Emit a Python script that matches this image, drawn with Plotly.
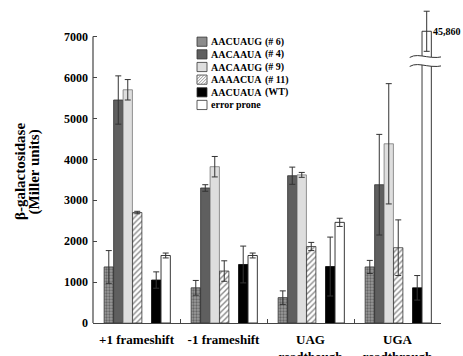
import plotly.graph_objects as go

# ---------------- data ----------------
categories = ["+1 frameshift", "-1 frameshift", "UAG<br>readthough", "UGA<br>readthrough"]

series_names = ["AACUAUG", "AACAAUA", "AACAAUG", "AAAACUA", "AACUAUA", "error prone"]
series_tags = ["(# 6)", "(# 4)", "(# 9)", "(# 11)", "(WT)", ""]

v6 = [1370, 860, 620, 1370]
v4 = [5450, 3300, 3600, 3380]
v9 = [5700, 3820, 3620, 4380]
v11 = [2700, 1270, 1870, 1840]
vWT = [1050, 1430, 1380, 860]
vEP = [1650, 1650, 2460, 45860]

e6 = [400, 180, 165, 160]
e4 = [590, 80, 210, 1230]
e9 = [250, 250, 60, 1470]
e11 = [30, 250, 100, 680]
eWT = [200, 450, 720, 300]
eEP = [60, 60, 100, 490]

y_tick_values = [0, 1000, 2000, 3000, 4000, 5000, 6000, 7000]

# ---------------- styling / layout ----------------
FONT = "Liberation Serif"
AXIS_MAX = 7000        # last value on the unbroken axis
BREAK_DRAW = 7130      # height at which bars beyond the axis break are drawn
Y_RANGE = [0, 7650]
AX_COLOR = "#444444"

W, H = 463, 356
ML, MR, MT, MB = 93, 22, 10, 33
PW, PH = W - ML - MR, H - MT - MB

BAR_W = 0.107
SLOT0 = -0.372
SLOT_STEP = 0.109
slots = [0, 1, 2, 3, 5, 6]

values = [v6, v4, v9, v11, vWT, vEP]
errors = [e6, e4, e9, e11, eWT, eEP]

styles = [
    dict(color="#929292", line=dict(color="#333333", width=0.8),
         pattern=dict(shape=".", fgcolor="#666666", bgcolor="#9a9a9a", size=3, solidity=0.45)),
    dict(color="#5f5f5f", line=dict(color="#333333", width=0.8)),
    dict(color="#dedede", line=dict(color="#777777", width=0.8)),
    dict(color="#ffffff", line=dict(color="#333333", width=0.8),
         pattern=dict(shape="/", fgcolor="#8a8a8a", bgcolor="#ffffff", size=4, solidity=0.35)),
    dict(color="#000000", line=dict(color="#000000", width=0.8)),
    dict(color="#ffffff", line=dict(color="#222222", width=0.9)),
]
swatch_fill = ["#8c8c8c", "#5f5f5f", "#dedede", "#ffffff", "#000000", "#ffffff"]

fig = go.Figure()
for i, (name, vals, errs) in enumerate(zip(series_names, values, errors)):
    drawn = [v if v <= AXIS_MAX else BREAK_DRAW for v in vals]
    fig.add_trace(go.Bar(
        x=categories, y=drawn, name=name,
        width=BAR_W, offset=SLOT0 + slots[i] * SLOT_STEP,
        marker=styles[i],
        error_y=dict(type="data", array=errs, symmetric=True,
                     color="#333333", thickness=1, width=3),
        showlegend=False,
    ))

shapes = []
annotations = []

# y axis line (only up to the axis break value)
shapes.append(dict(type="line", xref="paper", yref="y", x0=0, x1=0, y0=0, y1=AXIS_MAX,
                   line=dict(color=AX_COLOR, width=1.2)))

# axis-break marks across the broken bar
ep = len(series_names) - 1
for gi, v in enumerate(vEP):
    if v > AXIS_MAX:
        xc = gi + SLOT0 + slots[ep] * SLOT_STEP + BAR_W / 2
        xr = gi + SLOT0 + slots[ep] * SLOT_STEP + BAR_W
        yb = 6405
        band = "M -17,3.5 C -7,9.5 5,-1.5 23,6.5 L 23,-2.5 C 5,-10.5 -7,0.5 -17,-5.5 Z"
        shapes.append(dict(type="path", xref="x", yref="y", xsizemode="pixel", ysizemode="pixel",
                           xanchor=xc, yanchor=yb, path=band, fillcolor="white",
                           line=dict(width=0)))
        for b in (4.5, -4.5):
            p = f"M -17,{b-1} C -7,{b+5} 5,{b-6} 23,{b+2}"
            shapes.append(dict(type="path", xref="x", yref="y", xsizemode="pixel", ysizemode="pixel",
                               xanchor=xc, yanchor=yb, path=p,
                               line=dict(color="#333333", width=1)))
        annotations.append(dict(x=xr, y=BREAK_DRAW, xref="x", yref="y", text=f"{v:,}",
                                showarrow=False, xanchor="left", yanchor="middle", xshift=0,
                                font=dict(family=FONT, size=10, color="black", weight="bold")))

# legend (drawn manually to keep the compact row spacing)
row0, row_step = 41.7, 12.65
sw_x0, sw_x1 = 197 - ML, 207 - ML
for i in range(len(series_names)):
    py = row0 + i * row_step
    yc = -(py - MT)
    shapes.append(dict(type="rect", xref="paper", yref="paper", xsizemode="pixel", ysizemode="pixel",
                       xanchor=0, yanchor=1, x0=sw_x0, x1=sw_x1, y0=yc - 4.6, y1=yc + 4.6,
                       fillcolor=swatch_fill[i], line=dict(color="#333333", width=0.8)))
    if i == 3:
        segs = []
        bx0, by0 = sw_x0, yc - 4.6
        for k in range(-8, 10, 3):
            xa, ya = bx0 + max(k, 0), by0 + max(-k, 0)
            xb_ = bx0 + min(10, 9.2 + k)
            yb_ = by0 + (xb_ - bx0) - k
            segs.append(f"M {xa},{ya} L {xb_},{yb_}")
        shapes.append(dict(type="path", xref="paper", yref="paper", xsizemode="pixel", ysizemode="pixel",
                           xanchor=0, yanchor=1, path=" ".join(segs),
                           line=dict(color="#777777", width=0.8)))
    ypap = (H - MB - py) / PH
    annotations.append(dict(x=(209 - ML) / PW, y=ypap, xref="paper", yref="paper",
                            text=series_names[i], showarrow=False, xanchor="left", yanchor="middle",
                            font=dict(family=FONT, size=10, color="black", weight="bold")))
    if series_tags[i]:
        annotations.append(dict(x=(263 - ML) / PW, y=ypap, xref="paper", yref="paper",
                                text=series_tags[i], showarrow=False, xanchor="left", yanchor="middle",
                                font=dict(family=FONT, size=10, color="black", weight="bold")))

# y axis title (two rotated lines)
title_lines = ["β-galactosidase", "(Miller units)"]
for k, (t, px) in enumerate(zip(title_lines, [20, 33.5])):
    annotations.append(dict(x=(px - ML) / PW, y=(H - MB - 172) / PH, xref="paper", yref="paper",
                            text=t, textangle=-90, showarrow=False, xanchor="center", yanchor="middle",
                            font=dict(family=FONT, size=15, color="black", weight="bold")))

fig.update_layout(
    template="none",
    width=W, height=H,
    margin=dict(l=ML, r=MR, t=MT, b=MB, pad=0, autoexpand=False),
    paper_bgcolor="white", plot_bgcolor="white",
    barmode="overlay",
    showlegend=False,
    shapes=shapes, annotations=annotations,
    xaxis=dict(
        type="category", range=[-0.5, 3.5], showgrid=False, zeroline=False, automargin=False,
        showline=True, linecolor=AX_COLOR, linewidth=1.2,
        ticks="inside", tickson="boundaries", ticklen=4, tickcolor=AX_COLOR, tickwidth=1,
        tickfont=dict(family=FONT, size=13, color="black", weight="bold"),
        ticklabelstandoff=4,
    ),
    yaxis=dict(
        range=Y_RANGE, showgrid=False, zeroline=False, showline=False, automargin=False,
        tickvals=y_tick_values, ticktext=[str(v) for v in y_tick_values],
        ticks="inside", ticklen=4, tickcolor=AX_COLOR, tickwidth=1,
        tickfont=dict(family=FONT, size=12, color="black", weight="bold"),
        ticklabelstandoff=4,
    ),
)

fig.write_html(
    "out.html",
    config={"displayModeBar": False},
    post_script="document.body.style.margin='0';document.body.style.overflow='hidden';",
)
